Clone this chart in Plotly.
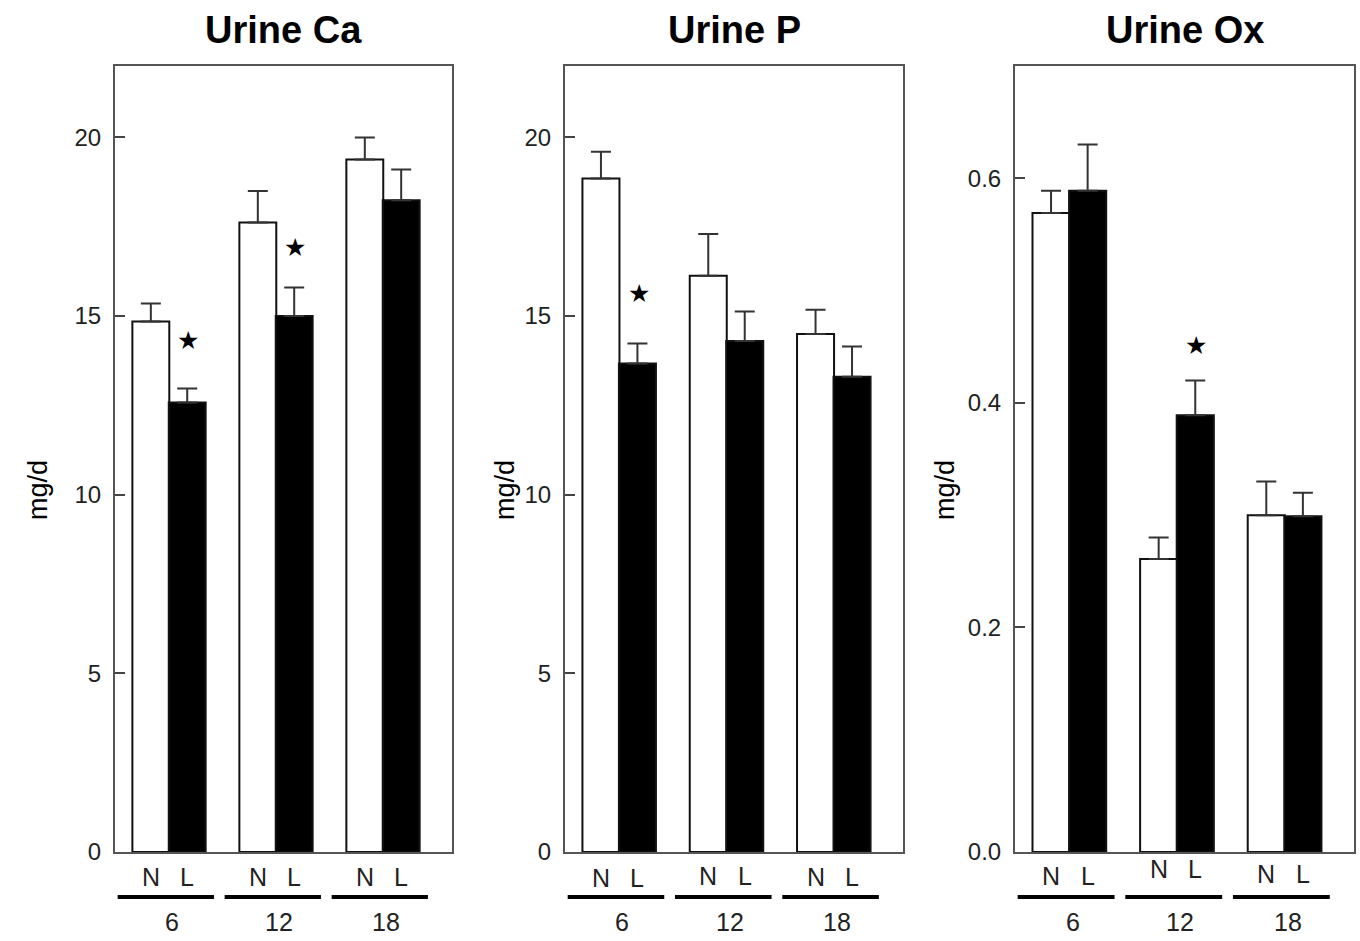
import plotly.graph_objects as go

groups = ["6", "12", "18"]
titles = ["Urine Ca", "Urine P", "Urine Ox"]

ca_N = [14.85, 17.62, 19.38]
ca_N_err = [0.50, 0.88, 0.62]
ca_L = [12.58, 15.0, 18.24]
ca_L_err = [0.39, 0.80, 0.86]
ca_star = [14.33, 16.93, None]

p_N = [18.85, 16.13, 14.5]
p_N_err = [0.75, 1.17, 0.68]
p_L = [13.67, 14.3, 13.3]
p_L_err = [0.56, 0.83, 0.85]
p_star = [15.62, None, None]

ox_N = [0.569, 0.261, 0.300]
ox_N_err = [0.020, 0.019, 0.030]
ox_L = [0.589, 0.389, 0.299]
ox_L_err = [0.041, 0.031, 0.021]
ox_star = [None, 0.4515, None]

y_ranges = [[0, 22], [0, 22], [0, 0.70]]
y_ticks = [[0, 5, 10, 15, 20], [0, 5, 10, 15, 20], [0.0, 0.2, 0.4, 0.6]]
y_ticktext = [["0", "5", "10", "15", "20"], ["0", "5", "10", "15", "20"], ["0.0", "0.2", "0.4", "0.6"]]

panels = [
    (ca_N, ca_N_err, ca_L, ca_L_err, ca_star),
    (p_N, p_N_err, p_L, p_L_err, p_star),
    (ox_N, ox_N_err, ox_L, ox_L_err, ox_star),
]

W, H = 1360, 941
box_left = [115, 565, 1015]
box_right = [452, 903, 1354]
box_top, box_bottom = 66, 852
ytitle_x = [38, 505, 945]
nl_y = [[877, 877, 877], [878, 876, 877], [876, 869, 874]]

FONT = "Liberation Sans, Arial, sans-serif"
fig = go.Figure()
annotations = []
shapes = []
off = 0.17
bw = 0.345

for i, (nv, ne, lv, le, star) in enumerate(panels):
    xa = "x" if i == 0 else f"x{i+1}"
    ya = "y" if i == 0 else f"y{i+1}"
    xs = list(range(len(groups)))
    fig.add_trace(go.Bar(
        x=[g - off for g in xs], y=nv, width=bw, xaxis=xa, yaxis=ya,
        marker=dict(color="white", line=dict(color="#111", width=2)),
        error_y=dict(type="data", symmetric=False, array=ne, arrayminus=[0]*3,
                     color="#333", thickness=2, width=10),
        showlegend=False, hoverinfo="skip"))
    fig.add_trace(go.Bar(
        x=[g + off for g in xs], y=lv, width=bw, xaxis=xa, yaxis=ya,
        marker=dict(color="black", line=dict(color="#111", width=2)),
        error_y=dict(type="data", symmetric=False, array=le, arrayminus=[0]*3,
                     color="#333", thickness=2, width=10),
        showlegend=False, hoverinfo="skip"))
    x0 = box_left[i] / W
    x1 = box_right[i] / W
    y0 = (H - box_bottom) / H
    y1 = (H - box_top) / H
    axkey = "xaxis" if i == 0 else f"xaxis{i+1}"
    aykey = "yaxis" if i == 0 else f"yaxis{i+1}"
    fig.update_layout(**{
        axkey: dict(domain=[x0, x1], range=[-0.505, 2.645], showticklabels=False,
                    ticks="", showgrid=False, zeroline=False, showline=True, automargin=False,
                    mirror=True, linecolor="#555", linewidth=2, anchor=ya, fixedrange=True),
        aykey: dict(domain=[y0, y1], range=y_ranges[i], tickvals=y_ticks[i],
                    ticktext=y_ticktext[i], ticks="inside", ticklen=10, tickwidth=2,
                    tickcolor="#444", showgrid=False, zeroline=False, showline=True,
                    mirror=True, linecolor="#555", linewidth=2, anchor=xa, automargin=False,
                    tickfont=dict(family=FONT, size=24, color="#222"),
                    ticklabelstandoff=7, fixedrange=True),
    })
    annotations.append(dict(text=f"<b>{titles[i]}</b>", xref="paper", yref="paper",
                            x=(x0 + x1) / 2, y=(H - 30) / H, xanchor="center", yanchor="middle",
                            showarrow=False, font=dict(family=FONT, size=38, color="black")))
    annotations.append(dict(text="mg/d", xref="paper", yref="paper", x=ytitle_x[i] / W,
                            y=(H - 490) / H, textangle=-90, xanchor="center", yanchor="middle",
                            showarrow=False, font=dict(family=FONT, size=27, color="black")))
    for g in xs:
        annotations.append(dict(text="N", xref=xa, yref="paper", x=g - off, y=(H - nl_y[i][g]) / H,
                                showarrow=False, xanchor="center", yanchor="middle",
                                font=dict(family=FONT, size=25, color="#222")))
        annotations.append(dict(text="L", xref=xa, yref="paper", x=g + off, y=(H - nl_y[i][g]) / H,
                                showarrow=False, xanchor="center", yanchor="middle",
                                font=dict(family=FONT, size=25, color="#222")))
        annotations.append(dict(text=groups[g], xref=xa, yref="paper", x=g + 0.03, y=(H - 922) / H,
                                showarrow=False, xanchor="center", yanchor="middle",
                                font=dict(family=FONT, size=25, color="#222")))
        shapes.append(dict(type="line", xref=xa, yref="paper", x0=g - 0.48, x1=g + 0.42,
                           y0=(H - 897) / H, y1=(H - 897) / H,
                           line=dict(color="black", width=4)))
        if star[g] is not None:
            annotations.append(dict(text="★", xref=xa, yref=ya, x=g + off + 0.01,
                                    y=star[g], yanchor="middle", xanchor="center",
                                    showarrow=False,
                                    font=dict(family="DejaVu Sans", size=25, color="black")))

fig.update_layout(width=W, height=H, margin=dict(l=0, r=0, t=0, b=0, autoexpand=False),
                  paper_bgcolor="white", plot_bgcolor="white",
                  barmode="overlay", annotations=annotations, shapes=shapes)
fig.write_html("out.html", config={"displayModeBar": False},
               post_script="document.body.style.margin='0px';document.body.style.overflow='hidden';")
